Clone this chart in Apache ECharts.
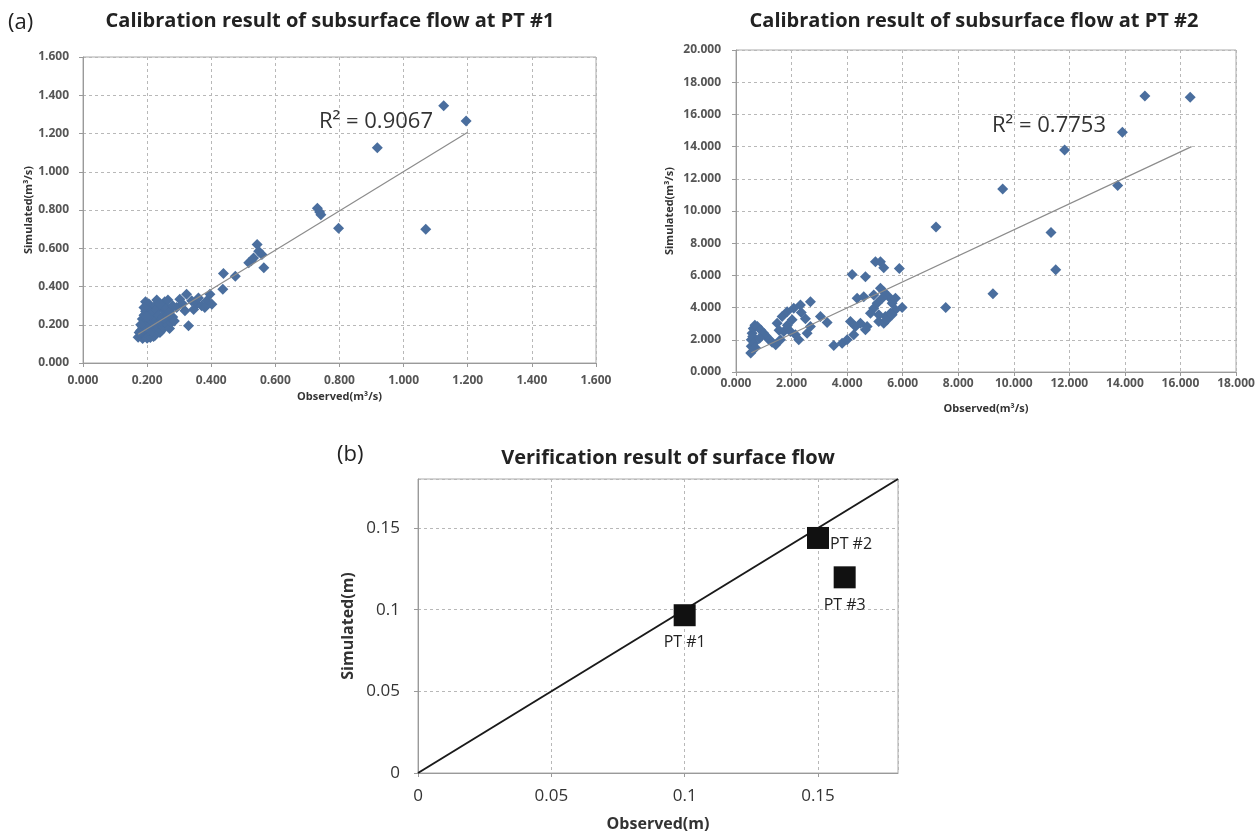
<!DOCTYPE html>
<html><head><meta charset="utf-8">
<script src="https://cdn.jsdelivr.net/npm/echarts@6/dist/echarts.min.js"></script>
<style>html,body{margin:0;padding:0;background:#fff}#c{width:1258px;height:836px}</style>
</head><body><div id="c"></div><script>
// ---- Data ----
const pt1Points = [
  [0.172,0.135],[0.178,0.142],[0.183,0.150],[0.186,0.128],[0.19,0.138],[0.195,0.145],[0.2,0.13],[0.205,0.14],
  [0.21,0.133],[0.215,0.15],[0.22,0.138],[0.225,0.145],[0.23,0.16],[0.18,0.17],[0.185,0.19],[0.19,0.21],
  [0.185,0.23],[0.19,0.25],[0.195,0.27],[0.2,0.3],[0.195,0.32],[0.205,0.31],[0.21,0.29],[0.2,0.22],
  [0.205,0.2],[0.21,0.18],[0.215,0.165],[0.22,0.19],[0.215,0.21],[0.22,0.23],[0.21,0.25],[0.22,0.27],
  [0.225,0.3],[0.23,0.28],[0.235,0.25],[0.24,0.22],[0.23,0.2],[0.235,0.18],[0.24,0.16],[0.245,0.17],
  [0.25,0.19],[0.245,0.21],[0.25,0.24],[0.255,0.27],[0.25,0.3],[0.255,0.32],[0.26,0.29],[0.265,0.25],
  [0.26,0.22],[0.265,0.2],[0.27,0.18],[0.275,0.21],[0.28,0.24],[0.27,0.27],[0.28,0.3],[0.265,0.33],
  [0.285,0.22],[0.23,0.33],[0.24,0.31],[0.2,0.24],[0.19,0.29],[0.195,0.19],[0.18,0.2],[0.175,0.16],
  [0.292,0.29],[0.302,0.333],[0.318,0.273],[0.323,0.359],[0.329,0.195],[0.339,0.325],[0.355,0.307],
  [0.37,0.299],[0.386,0.325],[0.396,0.359],[0.402,0.307],[0.38,0.29],[0.36,0.34],[0.31,0.31],[0.345,0.28],
  [0.436,0.385],[0.438,0.468],[0.475,0.454],[0.517,0.524],[0.532,0.549],[0.543,0.619],[0.548,0.584],
  [0.558,0.567],[0.564,0.498],[0.525,0.535],
  [0.731,0.809],[0.738,0.79],[0.742,0.775],[0.797,0.705],[0.918,1.126],[1.069,0.70],[1.125,1.345],[1.195,1.265]
];
const pt1Trend = [[0.172,0.15],[1.2,1.207]];

const pt2Points = [
  [0.53,1.18],[0.55,1.6],[0.55,2.0],[0.58,2.4],[0.62,2.7],[0.68,2.9],[0.6,2.2],[0.65,1.8],[0.7,1.5],
  [0.77,2.82],[0.9,2.6],[1.0,2.41],[1.1,2.2],[1.19,2.0],[1.3,1.85],[1.43,1.69],[1.6,2.0],[1.72,2.52],
  [1.48,3.03],[1.66,3.44],[1.84,3.75],[2.08,3.96],[2.32,4.16],[2.68,4.37],[2.02,3.24],[1.85,2.9],
  [1.96,2.52],[2.14,2.31],[2.26,2.0],[2.56,2.41],[2.68,2.82],[2.5,3.3],[2.35,3.7],[1.55,2.6],[0.85,2.1],
  [3.04,3.44],[3.28,3.07],
  [3.52,1.65],[3.82,1.79],[4.0,2.0],[4.24,2.31],[4.3,2.82],
  [4.18,6.06],[4.66,5.92],[5.02,6.85],[5.2,6.85],[5.32,6.47],[5.88,6.43],
  [4.36,4.58],[4.6,4.68],[4.96,4.78],[5.2,5.2],[5.32,4.99],[5.5,4.68],[5.62,4.27],[5.98,4.0],[5.74,3.86],
  [5.56,3.65],[5.38,3.44],[5.14,3.55],[4.96,3.96],[4.84,3.65],[4.72,2.82],[4.66,2.62],[4.48,3.03],
  [4.12,3.13],[5.14,3.13],[5.32,3.03],[5.44,3.24],[5.62,3.55],[5.08,4.27],[5.26,4.58],[5.74,4.58],
  [7.2,9.0],[7.55,4.0],[9.25,4.86],[9.6,11.37],[11.34,8.67],[11.51,6.35],[11.83,13.79],
  [13.74,11.58],[13.91,14.89],[14.72,17.14],[16.35,17.06]
];
const pt2Trend = [[0.55,1.2],[16.4,14.0]];

const surfaceLabels = ['PT #1','PT #2','PT #3'];
const surfaceObserved = [0.1, 0.15, 0.16];
const surfaceSimulated = [0.0966, 0.1439, 0.1198];
const oneToOne = [[0,0],[0.18,0.18]];

const titles = ['Calibration result of subsurface flow at PT #1','Calibration result of subsurface flow at PT #2','Verification result of surface flow'];
const r2Texts = ['R\u00b2 = 0.9067','R\u00b2 = 0.7753'];

// ---- Chart ----
const FONT = 'Open Sans';
const chart = echarts.init(document.getElementById('c'), null, {renderer:'canvas'});

function axisBase(o){
  return Object.assign({
    type:'value',
    nameLocation:'middle',
    nameTextStyle:{fontFamily:FONT,fontWeight:'bold',fontSize:11,color:'#333'},
    axisLine:{show:true,onZero:false,lineStyle:{color:'#9a9a9a',width:1}},
    axisTick:{show:true,length:4,lineStyle:{color:'#9a9a9a'}},
    splitLine:{show:true,lineStyle:{type:[3,3],color:'#b8b8b8',width:1}},
    axisLabel:{fontFamily:FONT,fontWeight:'bold',fontSize:12,color:'#555'}
  }, o);
}
const fmt3 = v => v.toFixed(3);
const fmtPlain = v => (Math.abs(v % 0.05) < 1e-9 || Math.abs(0.05 - v % 0.05) < 1e-9) ? String(+v.toFixed(2)) : '';

const pts3 = surfaceObserved.map((x,i)=>({value:[x, surfaceSimulated[i]], name:surfaceLabels[i]}));
const labelPos = [
  {position:'bottom', distance:8},
  {position:'right', distance:1, offset:[0,6]},
  {position:'bottom', distance:9}
];
pts3.forEach((p,i)=>{ p.label = Object.assign({show:true}, labelPos[i]); });

const lab12 = (margin) => ({fontFamily:FONT,fontWeight:'bold',fontSize:12,color:'#555',margin:margin,formatter:fmt3});
const lab3 = {fontFamily:FONT,fontSize:17,color:'#333',margin:15,showMaxLabel:false,formatter:fmtPlain};
const name3 = {fontFamily:FONT,fontWeight:'bold',fontSize:16,color:'#333'};

chart.setOption({
  animation:false,
  backgroundColor:'#fff',
  grid:[
    {left:83, top:57, width:513, height:306, show:true, borderColor:'#aaa', borderWidth:1},
    {left:736, top:50, width:500, height:322, show:true, borderColor:'#aaa', borderWidth:1},
    {left:418, top:479, width:480, height:294, show:true, borderColor:'#aaa', borderWidth:1}
  ],
  xAxis:[
    axisBase({gridIndex:0, min:0, max:1.6, interval:0.2, name:'Observed(m\u00b3/s)', nameGap:28, axisLabel:lab12(12)}),
    axisBase({gridIndex:1, min:0, max:18, interval:2, name:'Observed(m\u00b3/s)', nameGap:31, axisLabel:lab12(6)}),
    axisBase({gridIndex:2, min:0, max:0.18, interval:0.05, name:'Observed(m)', nameGap:43,
      nameTextStyle:name3, axisLabel:lab3})
  ],
  yAxis:[
    axisBase({gridIndex:0, min:0, max:1.6, interval:0.2, name:'Simulated(m\u00b3/s)', nameGap:46, axisLabel:lab12(14)}),
    axisBase({gridIndex:1, min:0, max:20, interval:2, name:'Simulated(m\u00b3/s)', nameGap:61, axisLabel:lab12(15)}),
    axisBase({gridIndex:2, min:0, max:0.18, interval:0.05, name:'Simulated(m)', nameGap:62,
      nameTextStyle:name3, axisLabel:Object.assign({}, lab3, {margin:18})})
  ],
  series:[
    {type:'scatter', xAxisIndex:0, yAxisIndex:0, data:pt1Points, symbol:'diamond', symbolSize:11,
      itemStyle:{color:'#4A6E9E', opacity:1}, z:3},
    {type:'line', xAxisIndex:0, yAxisIndex:0, data:pt1Trend, symbol:'none',
      lineStyle:{color:'#8c8c8c', width:1.2}, z:4},
    {type:'scatter', xAxisIndex:1, yAxisIndex:1, data:pt2Points, symbol:'diamond', symbolSize:11,
      itemStyle:{color:'#4A6E9E', opacity:1}, z:3},
    {type:'line', xAxisIndex:1, yAxisIndex:1, data:pt2Trend, symbol:'none',
      lineStyle:{color:'#8c8c8c', width:1.2}, z:4},
    {type:'line', xAxisIndex:2, yAxisIndex:2, data:oneToOne, symbol:'none',
      lineStyle:{color:'#1a1a1a', width:2}, z:3},
    {type:'scatter', xAxisIndex:2, yAxisIndex:2, data:pts3, symbol:'rect', symbolSize:22,
      itemStyle:{color:'#111', opacity:1}, z:4,
      label:{show:true, formatter:p=>p.name, fontFamily:FONT, fontSize:16, color:'#222'}}
  ],
  graphic:[
    {type:'text', x:330, y:21, style:{text:titles[0], textAlign:'center', textVerticalAlign:'middle',
      font:'bold 20px "Open Sans"', fill:'#222'}},
    {type:'text', x:974, y:21, style:{text:titles[1], textAlign:'center', textVerticalAlign:'middle',
      font:'bold 20px "Open Sans"', fill:'#222'}},
    {type:'text', x:668, y:458, style:{text:titles[2], textAlign:'center', textVerticalAlign:'middle',
      font:'bold 20px "Open Sans"', fill:'#222'}},
    {type:'text', x:8, y:23, style:{text:'(a)', textVerticalAlign:'middle', font:'22px "Open Sans"', fill:'#222'}},
    {type:'text', x:337, y:455, style:{text:'(b)', textVerticalAlign:'middle', font:'22px "Open Sans"', fill:'#222'}},
    {type:'text', x:376, y:122, style:{text:r2Texts[0], textAlign:'center', textVerticalAlign:'middle',
      font:'22px "Open Sans"', fill:'#333'}, z:10},
    {type:'text', x:1049, y:126, style:{text:r2Texts[1], textAlign:'center', textVerticalAlign:'middle',
      font:'22px "Open Sans"', fill:'#333'}, z:10}
  ]
});
</script></body></html>
